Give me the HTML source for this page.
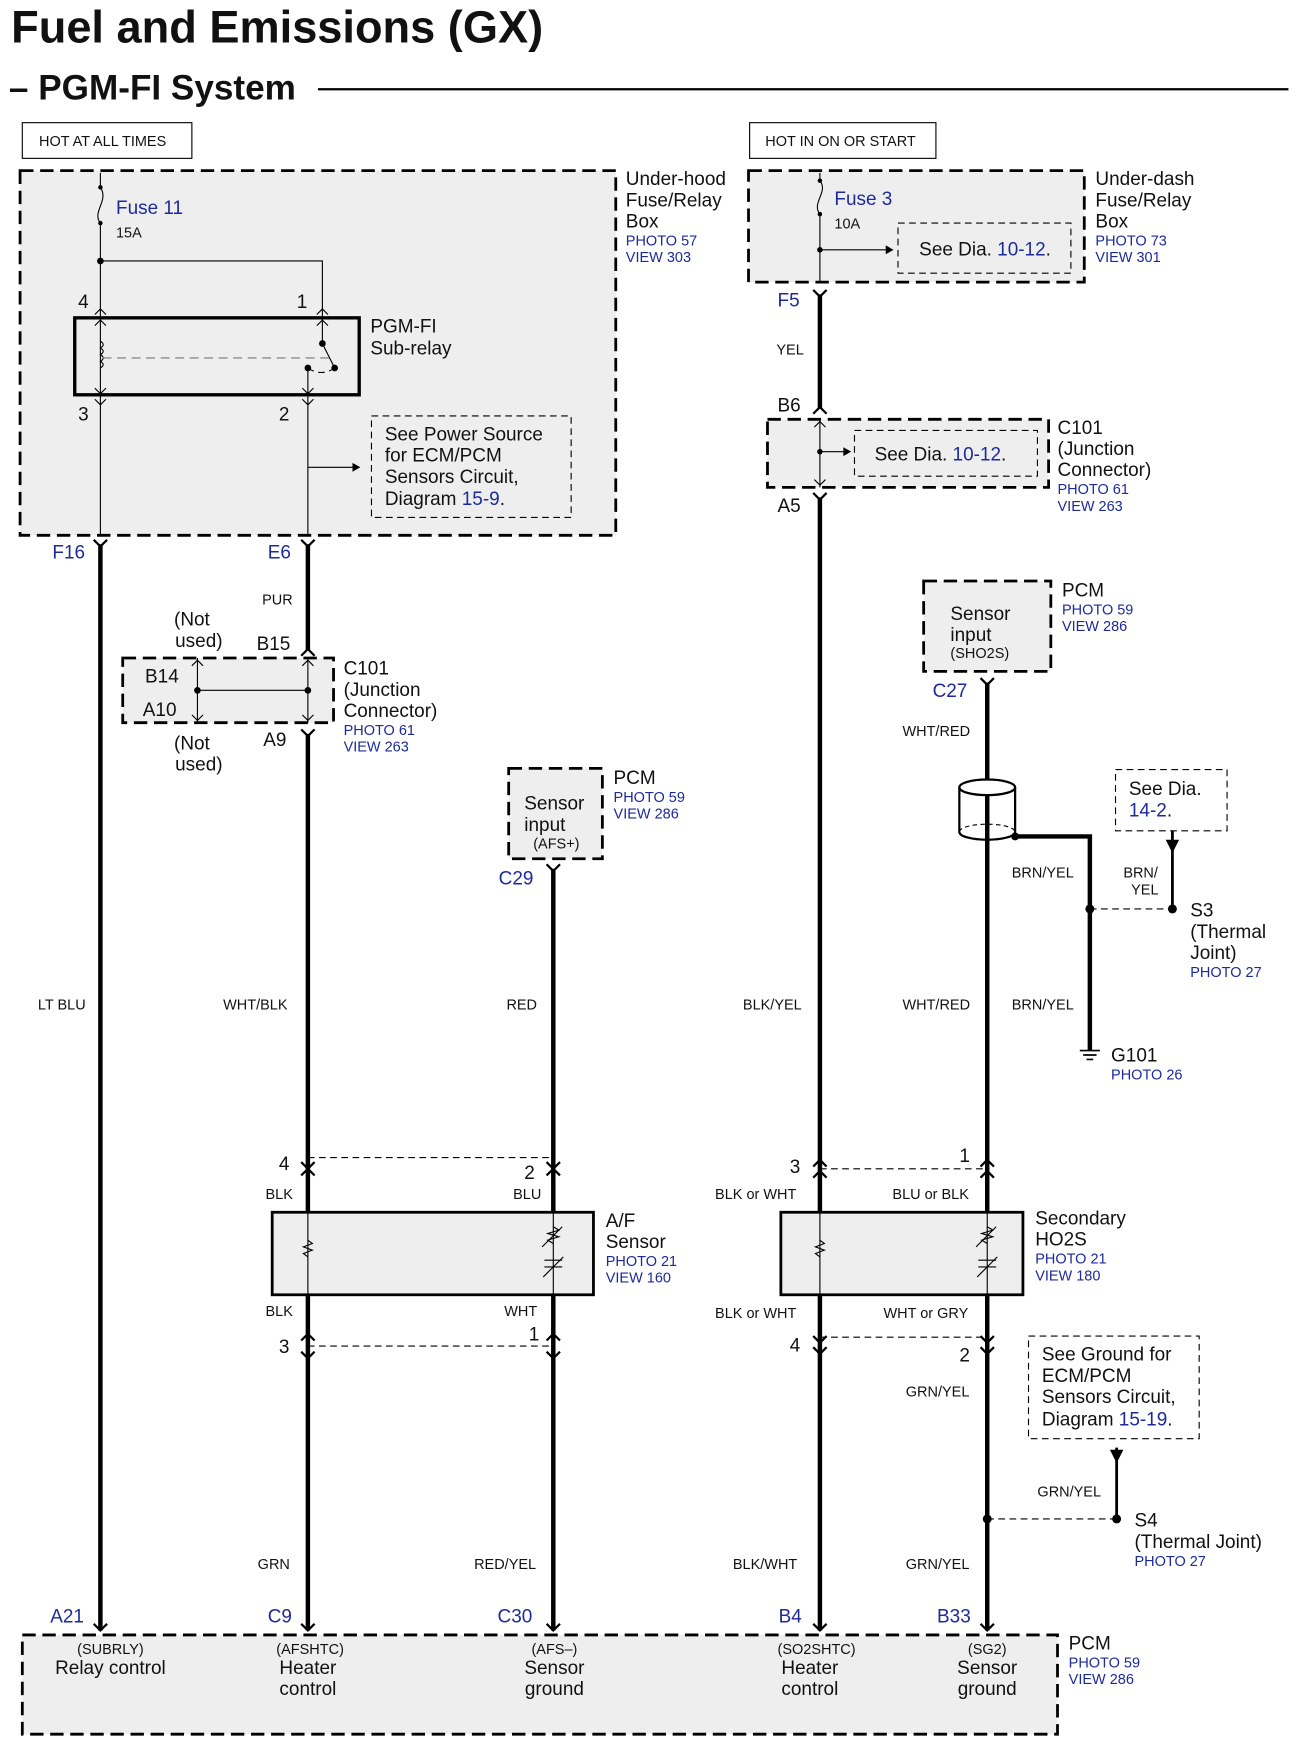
<!DOCTYPE html>
<html><head><meta charset="utf-8"><style>
html,body{margin:0;padding:0;background:#fff}
svg{display:block}
text{font-family:"Liberation Sans",Arial,sans-serif;fill:#111}
.b{fill:#1c2a9c}
.s{font-size:13px}
.m{font-size:17px}
.p{font-size:13px;fill:#1c2a9c}
.w{stroke:#000;stroke-width:4;fill:none}
.t{stroke:#000;stroke-width:1;fill:none}
.dg{stroke:#000;stroke-width:2.5;stroke-dasharray:12 6;fill:#eeeeee}
.dl{stroke:#000;stroke-width:1;stroke-dasharray:12 6;fill:none}
.dd{stroke:#000;stroke-width:1;stroke-dasharray:6 4;fill:none}
</style></head><body>
<svg width="1294" height="1742" viewBox="0 0 1160 1562" preserveAspectRatio="none" xmlns="http://www.w3.org/2000/svg">
<rect width="1160" height="1562" fill="#fff"/>
<text x="10" y="38" style="font-size:40.5px;font-weight:bold">Fuel and Emissions (GX)</text>
<text x="8" y="89" style="font-size:31.5px;font-weight:bold">– PGM-FI System</text>
<line x1="285" y1="80" x2="1155" y2="80" stroke="#000" stroke-width="2"/>
<rect x="20" y="110" width="152" height="32" fill="none" stroke="#000"/>
<text x="35" y="131" class="s">HOT AT ALL TIMES</text>
<rect x="672" y="110" width="167" height="32" fill="none" stroke="#000"/>
<text x="686" y="131" class="s">HOT IN ON OR START</text>

<rect x="18" y="153" width="534" height="327" class="dg"/>
<text x="561" y="166" class="m">Under-hood</text><text x="561" y="185" class="m">Fuse/Relay</text><text x="561" y="204" class="m">Box</text>
<text x="561" y="220" class="p">PHOTO 57</text><text x="561" y="235" class="p">VIEW 303</text>
<line x1="90" y1="155" x2="90" y2="168" class="t"/>
<circle cx="90" cy="168" r="2"/><circle cx="90" cy="200" r="2"/>
<path d="M90 168 C98 180 82 190 90 200" class="t"/>
<line x1="90" y1="200" x2="90" y2="480" class="t"/>
<text x="104" y="192" class="m b">Fuse 11</text><text x="104" y="213" class="s">15A</text>
<circle cx="90" cy="234" r="3"/>
<polyline points="90,234 289,234 289,285" class="t"/>
<text x="70" y="276" class="m">4</text><text x="266" y="276" class="m">1</text>
<rect x="67" y="285" width="255" height="69" fill="none" stroke="#000" stroke-width="3"/>
<path d="M85 282 l5 -5 l5 5 M284 282 l5 -5 l5 5 M85 292 l5 -5 l5 5 M284 292 l5 -5 l5 5" class="t"/>
<path d="M90 306 q5 3 0 6 q5 3 0 6 q5 3 0 6 q5 3 0 6" class="t"/>
<line x1="92" y1="321" x2="300" y2="321" stroke="#777" stroke-dasharray="8 5"/>
<line x1="289" y1="285" x2="289" y2="308" class="t"/><circle cx="289" cy="308" r="3"/>
<line x1="289" y1="308" x2="300" y2="330" class="t"/><circle cx="300" cy="330" r="3"/>
<path d="M276 330 q12 8 24 0" class="dd"/><circle cx="276" cy="330" r="3"/>
<line x1="276" y1="330" x2="276" y2="480" class="t"/>
<path d="M85 348 l5 5 l5 -5 M271 348 l5 5 l5 -5 M85 358 l5 5 l5 -5 M271 358 l5 5 l5 -5" class="t"/>
<text x="70" y="377" class="m">3</text><text x="250" y="377" class="m">2</text>
<text x="332" y="298" class="m">PGM-FI</text><text x="332" y="318" class="m">Sub-relay</text>
<rect x="333" y="373" width="179" height="91" class="dd"/>
<text x="345" y="395" class="m">See Power Source</text><text x="345" y="414" class="m">for ECM/PCM</text><text x="345" y="433" class="m">Sensors Circuit,</text><text x="345" y="453" class="m">Diagram <tspan class="b">15-9</tspan>.</text>
<line x1="276" y1="419" x2="320" y2="419" class="t"/><path d="M316 415 l7 4 l-7 4z"/>
<path d="M84 484 l6 6 l6 -6 M270 484 l6 6 l6 -6" stroke="#000" stroke-width="2" fill="none"/>
<text x="47" y="501" class="m b">F16</text><text x="240" y="501" class="m b">E6</text>
<line x1="90" y1="488" x2="90" y2="1462" class="w"/>
<line x1="276" y1="488" x2="276" y2="583" class="w"/>
<text x="235" y="542" class="s">PUR</text>

<text x="156" y="561" class="m">(Not</text><text x="157" y="580" class="m">used)</text>
<text x="230" y="583" class="m">B15</text>
<path d="M270 588 l6 -6 l6 6" stroke="#000" stroke-width="2" fill="none"/>
<rect x="110" y="590" width="189" height="58" class="dg"/>
<text x="130" y="612" class="m">B14</text><text x="128" y="642" class="m">A10</text>
<line x1="177" y1="590" x2="177" y2="648" class="t"/><line x1="276" y1="590" x2="276" y2="648" class="t"/>
<line x1="177" y1="619" x2="276" y2="619" class="t"/><circle cx="177" cy="619" r="3"/><circle cx="276" cy="619" r="3"/>
<path d="M172 597 l5 -5 l5 5 M271 597 l5 -5 l5 5 M172 641 l5 5 l5 -5 M271 641 l5 5 l5 -5" class="t"/>
<text x="308" y="605" class="m">C101</text><text x="308" y="624" class="m">(Junction</text><text x="308" y="643" class="m">Connector)</text>
<text x="308" y="659" class="p">PHOTO 61</text><text x="308" y="674" class="p">VIEW 263</text>
<text x="156" y="672" class="m">(Not</text><text x="157" y="691" class="m">used)</text>
<text x="236" y="669" class="m">A9</text>
<path d="M270 654 l6 6 l6 -6" stroke="#000" stroke-width="2" fill="none"/>
<line x1="276" y1="658" x2="276" y2="1462" class="w"/>

<rect x="456" y="689" width="84" height="81" class="dg"/>
<text x="470" y="726" class="m">Sensor</text><text x="470" y="745" class="m">input</text><text x="478" y="761" class="s">(AFS+)</text>
<text x="550" y="703" class="m">PCM</text><text x="550" y="719" class="p">PHOTO 59</text><text x="550" y="734" class="p">VIEW 286</text>
<text x="447" y="793" class="m b">C29</text>
<path d="M490 775 l6 6 l6 -6" stroke="#000" stroke-width="2" fill="none"/>
<line x1="496" y1="779" x2="496" y2="1462" class="w"/>

<text x="34" y="905" class="s">LT BLU</text><text x="200" y="905" class="s">WHT/BLK</text><text x="454" y="905" class="s">RED</text>

<line x1="276" y1="1038" x2="496" y2="1038" class="dd"/>
<text x="250" y="1049" class="m">4</text><text x="470" y="1057" class="m">2</text>
<path d="M270 1042 l6 6 l6 -6 M490 1042 l6 6 l6 -6 M270 1054 l6 -6 l6 6 M490 1054 l6 -6 l6 6" stroke="#000" stroke-width="2" fill="none"/>
<text x="238" y="1075" class="s">BLK</text><text x="460" y="1075" class="s">BLU</text>
<rect x="244" y="1087" width="288" height="74" fill="#eee" stroke="#000" stroke-width="2.5"/>
<line x1="276" y1="1087" x2="276" y2="1161" class="t"/>
<path d="M276 1112 l4 3 l-8 3 l8 3 l-8 3 l4 3" class="t"/>
<line x1="496" y1="1087" x2="496" y2="1161" class="t"/>
<path d="M496 1100 l5 3 l-10 3 l10 3 l-10 3 l5 3 M486 1118 l18 -18 M488 1130 l16 0 M488 1136 l16 0 M487 1145 l18 -18" class="t"/>
<text x="543" y="1100" class="m">A/F</text><text x="543" y="1119" class="m">Sensor</text>
<text x="543" y="1135" class="p">PHOTO 21</text><text x="543" y="1150" class="p">VIEW 160</text>
<text x="238" y="1180" class="s">BLK</text><text x="452" y="1180" class="s">WHT</text>
<line x1="276" y1="1207" x2="496" y2="1207" class="dd"/>
<text x="250" y="1213" class="m">3</text><text x="474" y="1202" class="m">1</text>
<path d="M270 1202 l6 -6 l6 6 M490 1202 l6 -6 l6 6 M270 1212 l6 6 l6 -6 M490 1212 l6 6 l6 -6" stroke="#000" stroke-width="2" fill="none"/>
<text x="231" y="1407" class="s">GRN</text><text x="425" y="1407" class="s">RED/YEL</text>

<rect x="671" y="153" width="301" height="100" class="dg"/>
<text x="982" y="166" class="m">Under-dash</text><text x="982" y="185" class="m">Fuse/Relay</text><text x="982" y="204" class="m">Box</text>
<text x="982" y="220" class="p">PHOTO 73</text><text x="982" y="235" class="p">VIEW 301</text>
<line x1="735" y1="155" x2="735" y2="162" class="t"/>
<circle cx="735" cy="162" r="2"/><circle cx="735" cy="192" r="2"/>
<path d="M735 162 C743 172 727 182 735 192" class="t"/>
<line x1="735" y1="192" x2="735" y2="253" class="t"/>
<text x="748" y="184" class="m b">Fuse 3</text><text x="748" y="205" class="s">10A</text>
<rect x="805" y="200" width="155" height="45" class="dd"/>
<text x="824" y="229" class="m">See Dia. <tspan class="b">10-12</tspan>.</text>
<line x1="735" y1="224" x2="796" y2="224" class="t"/><path d="M794 220 l7 4 l-7 4z"/>
<circle cx="735" cy="224" r="2.5"/>
<path d="M729 260 l6 6 l6 -6" stroke="#000" stroke-width="2" fill="none"/>
<text x="697" y="275" class="m b">F5</text>
<line x1="735" y1="264" x2="735" y2="366" class="w"/>
<text x="696" y="318" class="s">YEL</text>
<text x="697" y="369" class="m">B6</text>
<path d="M729 371 l6 -6 l6 6" stroke="#000" stroke-width="2" fill="none"/>
<rect x="688" y="376" width="252" height="61" class="dg"/>
<line x1="735" y1="376" x2="735" y2="437" class="t"/>
<path d="M730 383 l5 -5 l5 5 M730 430 l5 5 l5 -5" class="t"/>
<rect x="766" y="386" width="164" height="41" class="dd"/>
<text x="784" y="413" class="m">See Dia. <tspan class="b">10-12</tspan>.</text>
<line x1="735" y1="405" x2="758" y2="405" class="t"/><path d="M756 401 l7 4 l-7 4z"/><circle cx="735" cy="405" r="2.5"/>
<text x="948" y="389" class="m">C101</text><text x="948" y="408" class="m">(Junction</text><text x="948" y="427" class="m">Connector)</text>
<text x="948" y="443" class="p">PHOTO 61</text><text x="948" y="458" class="p">VIEW 263</text>
<text x="697" y="459" class="m">A5</text>
<path d="M729 442 l6 6 l6 -6" stroke="#000" stroke-width="2" fill="none"/>
<line x1="735" y1="446" x2="735" y2="1462" class="w"/>

<rect x="828" y="521" width="114" height="81" class="dg"/>
<text x="852" y="556" class="m">Sensor</text><text x="852" y="575" class="m">input</text><text x="852" y="590" class="s">(SHO2S)</text>
<text x="952" y="535" class="m">PCM</text><text x="952" y="551" class="p">PHOTO 59</text><text x="952" y="566" class="p">VIEW 286</text>
<text x="836" y="625" class="m b">C27</text>
<path d="M879 608 l6 6 l6 -6" stroke="#000" stroke-width="2" fill="none"/>
<line x1="885" y1="612" x2="885" y2="1462" class="w"/>
<text x="809" y="660" class="s">WHT/RED</text>
<ellipse cx="885" cy="706" rx="25" ry="7" fill="#fff" stroke="#000" stroke-width="2"/>
<line x1="860" y1="706" x2="860" y2="746" stroke="#000" stroke-width="2"/>
<line x1="910" y1="706" x2="910" y2="746" stroke="#000" stroke-width="2"/>
<path d="M860 746 a25 7 0 0 0 50 0" fill="none" stroke="#000" stroke-width="2"/>
<path d="M860 746 a25 7 0 0 1 50 0" fill="none" stroke="#000" stroke-width="1" stroke-dasharray="4 3"/>
<circle cx="910" cy="750" r="3.5"/>
<polyline points="910,750 977,750 977,942" class="w"/>
<text x="907" y="787" class="s">BRN/YEL</text>
<rect x="1000" y="690" width="100" height="55" class="dd"/>
<text x="1012" y="713" class="m">See Dia.</text><text x="1012" y="732" class="m b">14-2</text><text x="1046" y="732" class="m">.</text>
<line x1="1051" y1="745" x2="1051" y2="815" stroke="#000" stroke-width="2.5"/>
<path d="M1045 753 l6 12 l6 -12z"/>
<text x="1007" y="787" class="s">BRN/</text><text x="1014" y="802" class="s">YEL</text>
<line x1="977" y1="815" x2="1051" y2="815" class="dd"/>
<circle cx="977" cy="815" r="4"/><circle cx="1051" cy="815" r="4"/>
<text x="1067" y="822" class="m">S3</text><text x="1067" y="841" class="m">(Thermal</text><text x="1067" y="860" class="m">Joint)</text>
<text x="1067" y="876" class="p">PHOTO 27</text>
<text x="666" y="905" class="s">BLK/YEL</text><text x="809" y="905" class="s">WHT/RED</text><text x="907" y="905" class="s">BRN/YEL</text>
<path d="M968 942 h18 M971 946 h12 M974 950 h6" stroke="#000" stroke-width="1.5"/>
<text x="996" y="952" class="m">G101</text><text x="996" y="968" class="p">PHOTO 26</text>

<line x1="735" y1="1048" x2="885" y2="1048" class="dd"/>
<text x="708" y="1052" class="m">3</text><text x="860" y="1042" class="m">1</text>
<path d="M729 1046 l6 -6 l6 6 M879 1046 l6 -6 l6 6 M729 1056 l6 -6 l6 6 M879 1056 l6 -6 l6 6" stroke="#000" stroke-width="2" fill="none"/>
<text x="641" y="1075" class="s">BLK or WHT</text><text x="800" y="1075" class="s">BLU or BLK</text>
<rect x="700" y="1087" width="217" height="74" fill="#eee" stroke="#000" stroke-width="2.5"/>
<line x1="735" y1="1087" x2="735" y2="1161" class="t"/>
<path d="M735 1112 l4 3 l-8 3 l8 3 l-8 3 l4 3" class="t"/>
<line x1="885" y1="1087" x2="885" y2="1161" class="t"/>
<path d="M885 1100 l5 3 l-10 3 l10 3 l-10 3 l5 3 M875 1118 l18 -18 M877 1130 l16 0 M877 1136 l16 0 M876 1145 l18 -18" class="t"/>
<text x="928" y="1098" class="m">Secondary</text><text x="928" y="1117" class="m">HO2S</text>
<text x="928" y="1133" class="p">PHOTO 21</text><text x="928" y="1148" class="p">VIEW 180</text>
<text x="641" y="1182" class="s">BLK or WHT</text><text x="792" y="1182" class="s">WHT or GRY</text>
<line x1="735" y1="1199" x2="885" y2="1199" class="dd"/>
<text x="708" y="1212" class="m">4</text><text x="860" y="1221" class="m">2</text>
<path d="M729 1198 l6 6 l6 -6 M879 1198 l6 6 l6 -6 M729 1208 l6 6 l6 -6 M879 1208 l6 6 l6 -6" stroke="#000" stroke-width="2" fill="none"/>
<text x="812" y="1252" class="s">GRN/YEL</text>
<rect x="922" y="1198" width="153" height="92" class="dd"/>
<text x="934" y="1220" class="m">See Ground for</text><text x="934" y="1239" class="m">ECM/PCM</text><text x="934" y="1258" class="m">Sensors Circuit,</text><text x="934" y="1278" class="m">Diagram <tspan class="b">15-19</tspan>.</text>
<line x1="1001" y1="1298" x2="1001" y2="1362" stroke="#000" stroke-width="2.5"/>
<path d="M995 1300 l6 12 l6 -12z"/>
<text x="930" y="1342" class="s">GRN/YEL</text>
<line x1="885" y1="1362" x2="1001" y2="1362" class="dd"/>
<circle cx="885" cy="1362" r="4"/><circle cx="1001" cy="1362" r="4"/>
<text x="1017" y="1369" class="m">S4</text><text x="1017" y="1388" class="m">(Thermal Joint)</text><text x="1017" y="1404" class="p">PHOTO 27</text>
<text x="657" y="1407" class="s">BLK/WHT</text><text x="812" y="1407" class="s">GRN/YEL</text>

<text x="45" y="1455" class="m b">A21</text><text x="240" y="1455" class="m b">C9</text><text x="446" y="1455" class="m b">C30</text><text x="698" y="1455" class="m b">B4</text><text x="840" y="1455" class="m b">B33</text>
<path d="M84 1456 l6 6 l6 -6 M270 1456 l6 6 l6 -6 M490 1456 l6 6 l6 -6 M729 1456 l6 6 l6 -6 M879 1456 l6 6 l6 -6" stroke="#000" stroke-width="2" fill="none"/>
<rect x="20" y="1466" width="928" height="89" class="dg"/>
<text x="99" y="1483" class="s" text-anchor="middle">(SUBRLY)</text><text x="99" y="1501" class="m" text-anchor="middle">Relay control</text>
<text x="278" y="1483" class="s" text-anchor="middle">(AFSHTC)</text><text x="276" y="1501" class="m" text-anchor="middle">Heater</text><text x="276" y="1520" class="m" text-anchor="middle">control</text>
<text x="497" y="1483" class="s" text-anchor="middle">(AFS–)</text><text x="497" y="1501" class="m" text-anchor="middle">Sensor</text><text x="497" y="1520" class="m" text-anchor="middle">ground</text>
<text x="732" y="1483" class="s" text-anchor="middle">(SO2SHTC)</text><text x="726" y="1501" class="m" text-anchor="middle">Heater</text><text x="726" y="1520" class="m" text-anchor="middle">control</text>
<text x="885" y="1483" class="s" text-anchor="middle">(SG2)</text><text x="885" y="1501" class="m" text-anchor="middle">Sensor</text><text x="885" y="1520" class="m" text-anchor="middle">ground</text>
<text x="958" y="1479" class="m">PCM</text><text x="958" y="1495" class="p">PHOTO 59</text><text x="958" y="1510" class="p">VIEW 286</text>
</svg>
</body></html>
